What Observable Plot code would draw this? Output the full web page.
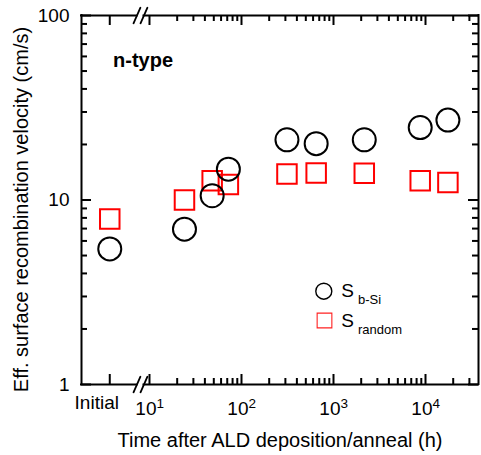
<!DOCTYPE html>
<html><head><meta charset="utf-8">
<script src="https://cdn.jsdelivr.net/npm/d3@7"></script>
<script src="https://cdn.jsdelivr.net/npm/@observablehq/plot@0.6"></script>
<style>
html,body{margin:0;padding:0;background:#fff;}
#chart svg{display:block;}
</style></head><body><div id="chart"></div>
<script>
// ---- data ----
const categories = ["Initial", 24, 48, 72, 312, 648, 2160, 8760, 17520]; // hours
const sBSi = [5.43, 6.95, 10.55, 14.7, 21.2, 20.2, 21.2, 24.7, 27.1];
const sRandom = [7.9, 10.0, 12.7, 12.15, 13.85, 14.0, 13.95, 12.7, 12.45];
const seriesNames = ["b-Si", "random"];
const yTickValues = [1, 10, 100];
const yTickLabels = ["1", "10", "100"];
const xTickValues = ["Initial", 10, 100, 1000, 10000];
const xTickExponents = ["", "1", "2", "3", "4"];

// ---- layout of the broken log axis ----
const W = 481, H = 455, mL = 81, mR = 3, mT = 15, mB = 71;
const frameW = W - mL - mR, frameH = H - mT - mB;
const xDomain = [10 ** 0.261, 10 ** 4.576];
const initialPos = 3.7;          // where the "Initial" category sits on the compressed segment
const breakPos = [7.31, 8.71];   // axis break (//)
const pos = c => c === "Initial" ? initialPos : c;

const rowsB = categories.map((c, i) => ({x: pos(c), y: sBSi[i]}));
const rowsR = categories.map((c, i) => ({x: pos(c), y: sRandom[i]}));

const xMajor = xTickValues.map(pos);
const xMinor = [];
for (const d of [10, 100, 1000, 10000]) for (let k = 2; k <= 9; k++) if (d * k < xDomain[1]) xMinor.push(d * k);
const yMinor = [];
for (const d of [1, 10]) for (let k = 2; k <= 9; k++) yMinor.push(d * k);

const majorLen = 10, minorLen = 6, tw = 2;
const slash = {draw(ctx, l) { ctx.moveTo(0, 0); ctx.lineTo(0, -l); }};

const frameSegs = [
  {y: 100, x1: xDomain[0], x2: breakPos[0]}, {y: 100, x1: breakPos[1], x2: xDomain[1]},
  {y: 1, x1: xDomain[0], x2: breakPos[0]}, {y: 1, x1: breakPos[1], x2: xDomain[1]}
];
const xLabelRows = xTickValues.map((v, i) => ({x: pos(v), exp: xTickExponents[i]})).filter(d => d.exp);

const chart = Plot.plot({
  width: W, height: H, marginLeft: mL, marginRight: mR, marginTop: mT, marginBottom: mB,
  x: {type: "log", domain: xDomain, axis: null},
  y: {type: "log", domain: [1, 100], axis: null},
  style: {fontFamily: "'Liberation Sans', Arial, sans-serif", background: "white", color: "black", overflow: "visible"},
  marks: [
    // frame
    Plot.ruleX([xDomain[0], xDomain[1]], {strokeWidth: 2, strokeLinecap: "square"}),
    Plot.ruleY(frameSegs, {y: "y", x1: "x1", x2: "x2", strokeWidth: 2, strokeLinecap: "square"}),
    // axis break slashes
    Plot.vector(breakPos, {x: d => d, frameAnchor: "bottom", length: 17, rotate: 24, anchor: "middle", shape: slash, stroke: "black", strokeWidth: 1.8}),
    Plot.vector(breakPos, {x: d => d, frameAnchor: "top", length: 17, rotate: 24, anchor: "middle", shape: slash, stroke: "black", strokeWidth: 1.8}),
    // x ticks (inward, bottom & top)
    Plot.tickX(xMajor, {x: d => d, insetTop: frameH - majorLen, strokeWidth: tw}),
    Plot.tickX(xMajor, {x: d => d, insetBottom: frameH - majorLen, strokeWidth: tw}),
    Plot.tickX(xMinor, {x: d => d, insetTop: frameH - minorLen, strokeWidth: tw}),
    Plot.tickX(xMinor, {x: d => d, insetBottom: frameH - minorLen, strokeWidth: tw}),
    // y ticks (inward, left & right)
    Plot.tickY(yTickValues, {y: d => d, insetRight: frameW - majorLen, strokeWidth: tw}),
    Plot.tickY(yTickValues, {y: d => d, insetLeft: frameW - majorLen, strokeWidth: tw}),
    Plot.tickY(yMinor, {y: d => d, insetRight: frameW - minorLen, strokeWidth: tw}),
    Plot.tickY(yMinor, {y: d => d, insetLeft: frameW - minorLen, strokeWidth: tw}),
    // y tick labels
    Plot.text(yTickValues, {y: d => d, text: yTickLabels, frameAnchor: "left", dx: -12, textAnchor: "end", lineAnchor: "middle", fontSize: 19}),
    // x tick labels
    Plot.text(["Initial"], {x: [initialPos], text: d => d, frameAnchor: "bottom", dx: -13, dy: 24.7, lineAnchor: "bottom", textAnchor: "middle", fontSize: 19}),
    Plot.text(xLabelRows, {x: "x", text: () => "10", frameAnchor: "bottom", dx: 7, dy: 30, lineAnchor: "bottom", textAnchor: "end", fontSize: 19}),
    Plot.text(xLabelRows, {x: "x", text: "exp", frameAnchor: "bottom", dx: 7, dy: 23, lineAnchor: "bottom", textAnchor: "start", fontSize: 13.5}),
    // axis titles
    Plot.text(["Time after ALD deposition/anneal (h)"], {text: d => d, frameAnchor: "bottom", dy: 62, lineAnchor: "bottom", textAnchor: "middle", fontSize: 20}),
    Plot.text(["Eff. surface recombination velocity (cm/s)"], {text: d => d, frameAnchor: "left", dx: -53.5, dy: 9.5, rotate: -90, lineAnchor: "bottom", textAnchor: "middle", fontSize: 20}),
    // annotation
    Plot.text(["n-type"], {text: d => d, frameAnchor: "top-left", dx: 31.5, dy: 51.7, lineAnchor: "bottom", textAnchor: "start", fontWeight: "bold", fontSize: 20}),
    // data
    Plot.dot(rowsR, {x: "x", y: "y", symbol: "square", r: 11, stroke: "#ff0000", strokeWidth: 2, fill: "none"}),
    Plot.dot(rowsB, {x: "x", y: "y", symbol: "circle", r: 11.5, stroke: "black", strokeWidth: 2, fill: "none"}),
    // legend
    Plot.dot([seriesNames[0]], {frameAnchor: "top-left", dx: 242.3, dy: 275.7, symbol: "circle", r: 8, stroke: "black", strokeWidth: 1.4, fill: "none"}),
    Plot.dot([seriesNames[1]], {frameAnchor: "top-left", dx: 243, dy: 305, symbol: "square", r: 8.3, stroke: "#ff2020", strokeWidth: 1.1, fill: "none"}),
    Plot.text([seriesNames[0]], {text: () => "S", frameAnchor: "top-left", dx: 259.7, dy: 281.7, lineAnchor: "bottom", textAnchor: "start", fontSize: 19}),
    Plot.text([seriesNames[0]], {text: d => d, frameAnchor: "top-left", dx: 276.5, dy: 288.3, lineAnchor: "bottom", textAnchor: "start", fontSize: 13}),
    Plot.text([seriesNames[1]], {text: () => "S", frameAnchor: "top-left", dx: 259.7, dy: 311, lineAnchor: "bottom", textAnchor: "start", fontSize: 19}),
    Plot.text([seriesNames[1]], {text: d => d, frameAnchor: "top-left", dx: 276.5, dy: 318, lineAnchor: "bottom", textAnchor: "start", fontSize: 13})
  ]
});
document.getElementById("chart").append(chart);
</script>
</body></html>
